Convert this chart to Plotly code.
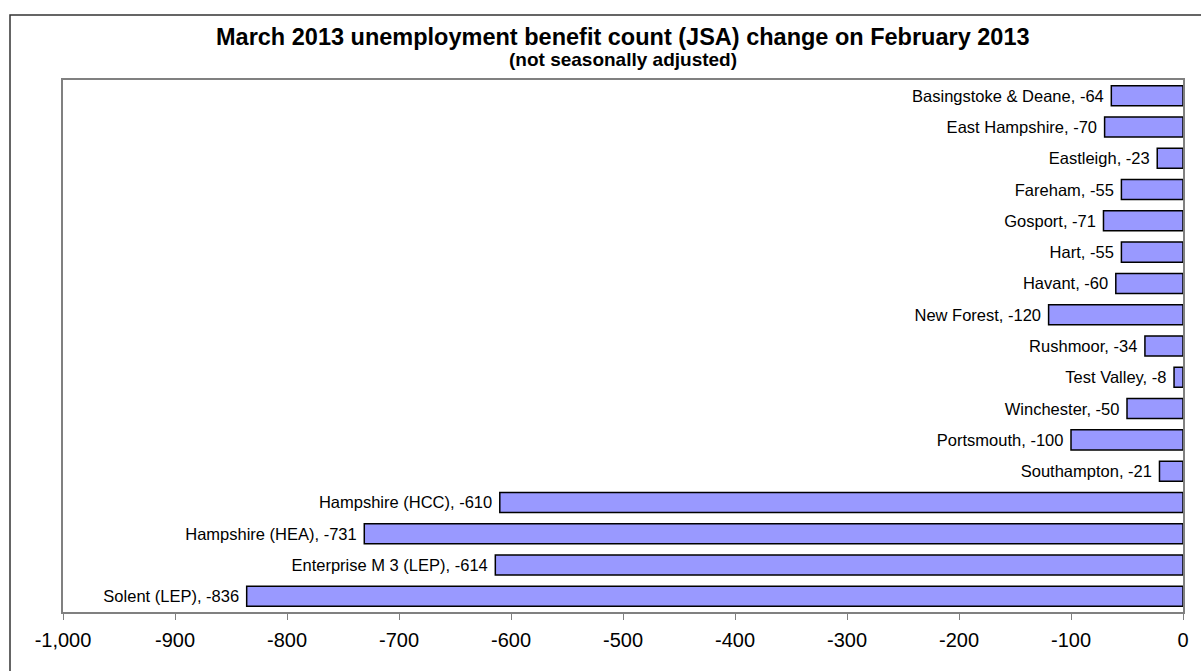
import plotly.graph_objects as go

areas = ["Basingstoke & Deane", "East Hampshire", "Eastleigh", "Fareham", "Gosport",
         "Hart", "Havant", "New Forest", "Rushmoor", "Test Valley", "Winchester",
         "Portsmouth", "Southampton", "Hampshire (HCC)", "Hampshire (HEA)",
         "Enterprise M 3 (LEP)", "Solent (LEP)"]
changes = [-64, -70, -23, -55, -71, -55, -60, -120, -34, -8, -50, -100, -21,
           -610, -731, -614, -836]
tick_values = [-1000, -900, -800, -700, -600, -500, -400, -300, -200, -100, 0]
tick_labels = ["-1,000", "-900", "-800", "-700", "-600", "-500", "-400", "-300",
               "-200", "-100", "0"]

labels = [f"{a}, {v} " for a, v in zip(areas, changes)]

FONT = "Liberation Sans, Arial, sans-serif"
W, H = 1201, 671
L, R, T, B = 63, 18, 80, 59
plot_w = W - L - R
plot_h = H - T - B

fig = go.Figure(go.Bar(
    x=changes, y=areas, orientation="h",
    marker=dict(color="#9999FF", line=dict(color="black", width=1.5)),
    text=labels, textposition="outside", cliponaxis=False,
    textfont=dict(family=FONT, size=16.5, color="black"),
    width=0.64,
))

fig.update_layout(
    width=W, height=H,
    margin=dict(l=L, r=R, t=T, b=B),
    paper_bgcolor="white", plot_bgcolor="white",
    font=dict(family=FONT, color="black"),
    showlegend=False,
    xaxis=dict(range=[-1000, 0], tickvals=tick_values, ticktext=tick_labels,
               ticks="outside", ticklen=6, tickcolor="#808080", tickwidth=1,
               showgrid=False, zeroline=False, showline=True, linecolor="#808080",
               linewidth=1.5, mirror=True, tickfont=dict(size=20), ticklabelstandoff=3),
    yaxis=dict(autorange="reversed", showticklabels=False, ticks="", showgrid=False,
               zeroline=False, showline=True, linecolor="#808080", linewidth=1.5,
               mirror=True),
    annotations=[
        dict(text="<b>March 2013 unemployment benefit count (JSA) change on February 2013</b>",
             x=0.5, xref="paper", y=1 + (T - 37) / plot_h, yref="paper",
             yanchor="middle", showarrow=False,
             font=dict(size=23.5, family=FONT)),
        dict(text="<b>(not seasonally adjusted)</b>",
             x=0.5, xref="paper", y=1 + (T - 60) / plot_h, yref="paper",
             yanchor="middle", showarrow=False,
             font=dict(size=19, family=FONT)),
    ],
    shapes=[dict(type="rect", xref="paper", yref="paper",
                 x0=(10 - L) / plot_w, x1=(W + 40 - L) / plot_w,
                 y0=-(H + 40 - (H - B)) / plot_h, y1=1 + (T - 15) / plot_h,
                 line=dict(color="#333333", width=1.5), layer="below")],
)

fig.write_html("out.html", config={"displayModeBar": False},
               post_script="document.body.style.margin='0';document.body.style.overflow='hidden';")
